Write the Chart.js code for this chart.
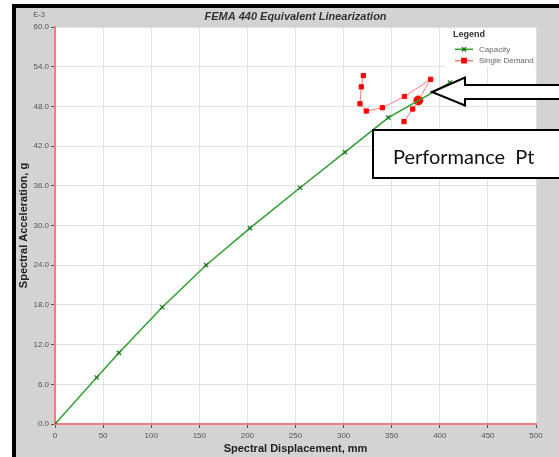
<!DOCTYPE html>
<html>
<head>
<meta charset="utf-8">
<script src="https://cdn.jsdelivr.net/npm/chart.js@4"></script>
<style>
html,body{margin:0;padding:0;background:#fff;}
#wrap{width:559px;height:457px;}
</style>
</head>
<body>
<div id="wrap"><canvas id="fema" width="559" height="457"></canvas></div>
<script>
// capacity curve (mm, g x 1E-3)
const capX=[0,43.3,66.5,111.5,157,202.7,254.7,301.5,346.5,410.6];
const capY=[0,7.03,10.76,17.65,24.0,29.6,35.7,41.1,46.3,51.6];
// single demand curve
const demX=[320.5,318.4,317.0,323.6,340.3,363.2,390.5,377.7,371.8,362.8];
const demY=[52.66,50.95,48.4,47.3,47.8,49.5,52.1,48.9,47.6,45.7];
// performance point
const perfX=[377.7];
const perfY=[48.9];
const xTicks=[0,50,100,150,200,250,300,350,400,450,500];
const yTicks=[0,6,12,18,24,30,36,42,48,54,60];

const pts=(xs,ys)=>xs.map((x,i)=>({x:x,y:ys[i]}));
Chart.defaults.font.family='"Liberation Sans", Arial, sans-serif';

const frame={
  id:'frame',
  beforeDraw(c){
    const ctx=c.ctx,a=c.chartArea;
    ctx.save();
    ctx.fillStyle='#fff';ctx.fillRect(0,0,c.width,c.height);
    ctx.fillStyle='#000';ctx.fillRect(12,4,c.width,c.height);
    ctx.fillStyle='#d3d3d3';ctx.fillRect(16,8,c.width,c.height);
    ctx.fillStyle='#fff';ctx.fillRect(a.left,a.top,a.right-a.left,a.bottom-a.top);
    ctx.restore();
  },
  afterDraw(c){
    const ctx=c.ctx,a=c.chartArea;
    ctx.save();
    // title
    ctx.fillStyle='#333';ctx.textAlign='center';ctx.textBaseline='middle';
    ctx.font='italic bold 11px "Liberation Sans", Arial';
    ctx.fillText('FEMA 440 Equivalent Linearization',(a.left+a.right)/2,17);
    ctx.font='7.5px "Liberation Sans", Arial';ctx.fillStyle='#555';
    ctx.fillText('E-3',39,15);
    // legend
    ctx.fillStyle='#fff';ctx.fillRect(445,a.top+1,a.right-446,39);
    ctx.textAlign='left';ctx.fillStyle='#333';
    ctx.font='bold 9px "Liberation Sans", Arial';
    ctx.fillText('Legend',453,35);
    ctx.font='8px "Liberation Sans", Arial';
    const ds=c.data.datasets;
    [[ds[0],49.3,'Capacity'],[ds[1],60.7,'Single Demand']].forEach(([d,y,t])=>{
      ctx.strokeStyle=d.borderColor;ctx.lineWidth=1.5;
      ctx.beginPath();ctx.moveTo(455,y);ctx.lineTo(473,y);ctx.stroke();
      ctx.strokeStyle=d.pointBorderColor;ctx.fillStyle=d.backgroundColor;
      Chart.helpers.drawPoint(ctx,{pointStyle:d.pointStyle,radius:d.pointRadius,borderWidth:d.pointBorderWidth||1},464,y);
      ctx.fillStyle='#666';ctx.fillText(t,479,y);
    });
    // arrow
    ctx.fillStyle='#fff';ctx.strokeStyle='#000';ctx.lineWidth=2;ctx.lineJoin='miter';
    ctx.beginPath();
    ctx.moveTo(432,92);ctx.lineTo(465,77.5);ctx.lineTo(465,85);ctx.lineTo(562,85);
    ctx.lineTo(562,99);ctx.lineTo(465,99);ctx.lineTo(465,105.5);ctx.closePath();
    ctx.fill();ctx.stroke();
    // label box
    ctx.beginPath();ctx.rect(373,130,190,48);ctx.fill();ctx.stroke();
    ctx.fillStyle='#111';ctx.font='20px Lato, "Open Sans", sans-serif';
    ctx.textBaseline='alphabetic';
    ctx.fillText('Performance  Pt',393,164);
    ctx.restore();
  }
};

new Chart(document.getElementById('fema'),{
  type:'scatter',
  data:{datasets:[
    {label:'Capacity',data:pts(capX,capY),showLine:true,borderColor:'#2e9e2e',backgroundColor:'#1d7a1d',
     borderWidth:1.5,pointStyle:'crossRot',pointRadius:3,pointBorderColor:'#1d7a1d',pointBorderWidth:1.3},
    {label:'Single Demand',data:pts(demX,demY),showLine:true,borderColor:'#ff7b7b',backgroundColor:'#ff0000',
     borderWidth:1,pointStyle:'rect',pointRadius:3,pointBorderColor:'#ff0000',pointBorderWidth:1},
    {label:'Performance',data:pts(perfX,perfY),borderColor:'#ff0000',backgroundColor:'#ff0000',
     pointStyle:'circle',pointRadius:4.5}
  ]},
  options:{
    responsive:false,animation:false,
    layout:{padding:{left:0,right:23,top:27,bottom:0}},
    plugins:{legend:{display:false},title:{display:false},tooltip:{enabled:false}},
    scales:{
      x:{type:'linear',min:0,max:500,
        afterFit(s){s.height=33;},
        afterBuildTicks(s){s.ticks=xTicks.map(v=>({value:v}));},
        ticks:{color:'#555',font:{size:8},padding:3,maxRotation:0},
        grid:{color:'#e2e2e2',tickColor:'#555',tickLength:4},
        border:{color:'#f08080',width:2},
        title:{display:true,text:'Spectral Displacement, mm',color:'#222',font:{size:11,weight:'bold'},padding:{top:0,bottom:1.5}}},
      y:{type:'linear',min:0,max:60,
        afterFit(s){s.width=55;},
        afterBuildTicks(s){s.ticks=yTicks.map(v=>({value:v}));},
        ticks:{color:'#555',font:{size:8},padding:2,callback:v=>v.toFixed(1)},
        grid:{color:'#e2e2e2',tickColor:'#555',tickLength:4},
        border:{color:'#f08080',width:2},
        title:{display:true,text:'Spectral Acceleration, g',color:'#222',font:{size:11,weight:'bold'},padding:{top:17,bottom:0}}}
    }
  },
  plugins:[frame]
});
</script>
</body>
</html>
